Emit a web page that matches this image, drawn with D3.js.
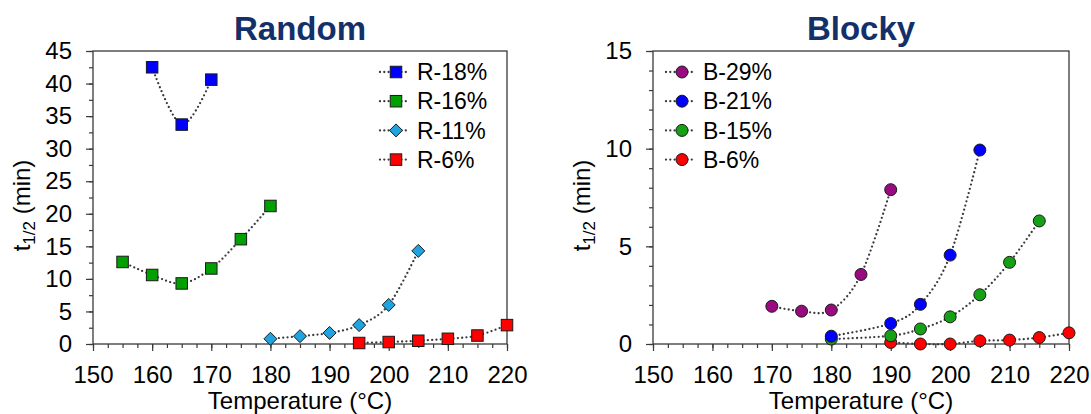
<!DOCTYPE html>
<html>
<head>
<meta charset="utf-8">
<script src="https://cdn.jsdelivr.net/npm/d3@7"></script>
<style>
  body { margin: 0; background: #fff; }
  svg { display: block; font-family: "Liberation Sans", Arial, sans-serif; }
</style>
</head>
<body>
<svg id="chart" width="1091" height="414"></svg>
<script>
// ---- data ----
const xTicks = [150, 160, 170, 180, 190, 200, 210, 220]

// Random copolymers
const r18Temp = [160, 165, 170]
const r18Val = [42.5, 33.7, 40.6]
const r16Temp = [155, 160, 165, 170, 175, 180]
const r16Val = [12.6, 10.6, 9.3, 11.6, 16.1, 21.2]
const r11Temp = [180, 185, 190, 195, 200, 205]
const r11Val = [0.8, 1.2, 1.7, 2.9, 6.0, 14.3]
const r6Temp = [195, 200, 205, 210, 215, 220]
const r6Val = [0.15, 0.3, 0.5, 0.8, 1.3, 2.9]
const randomTicks = [0, 5, 10, 15, 20, 25, 30, 35, 40, 45]

// Blocky copolymers
const b29Temp = [170, 175, 180, 185, 190]
const b29Val = [1.93, 1.68, 1.74, 3.56, 7.9]
const b21Temp = [180, 190, 195, 200, 205]
const b21Val = [0.4, 1.05, 2.03, 4.55, 9.93]
const b15Temp = [180, 190, 195, 200, 205, 210, 215]
const b15Val = [0.25, 0.42, 0.77, 1.39, 2.52, 4.18, 6.3]
const b6Temp = [190, 195, 200, 205, 210, 215, 220]
const b6Val = [0.08, 0.0, 0.0, 0.16, 0.2, 0.33, 0.57]
const blockyTicks = [0, 5, 10, 15]

function zip(t, v) {
  return t.map(function(d, i) { return { x: d, y: v[i] } })
}

const randomSeries = [
  { name: "R-18%", color: "#0000ff", shape: "square", pts: zip(r18Temp, r18Val) },
  { name: "R-16%", color: "#00a000", shape: "square", pts: zip(r16Temp, r16Val) },
  { name: "R-11%", color: "#1ea4e0", shape: "diamond", pts: zip(r11Temp, r11Val) },
  { name: "R-6%", color: "#ff0000", shape: "square", pts: zip(r6Temp, r6Val) }
]
const blockySeries = [
  { name: "B-29%", color: "#990a80", shape: "circle", pts: zip(b29Temp, b29Val) },
  { name: "B-21%", color: "#0000ff", shape: "circle", pts: zip(b21Temp, b21Val) },
  { name: "B-15%", color: "#16a016", shape: "circle", pts: zip(b15Temp, b15Val) },
  { name: "B-6%", color: "#ff0000", shape: "circle", pts: zip(b6Temp, b6Val) }
]

const svg = d3.select("#chart")
const FONT = 23
const TICKFONT = 24
const lineColor = "#3a3a3a"
const frameColor = "#3a3a3a"

function marker(g, shape, color) {
  var m
  if (shape === "square") {
    m = g.append("rect").attr("x", -5.75).attr("y", -5.75).attr("width", 11.5).attr("height", 11.5)
  } else if (shape === "diamond") {
    m = g.append("path").attr("d", "M0,-6.5L6.5,0L0,6.5L-6.5,0Z")
  } else {
    m = g.append("circle").attr("r", 6)
  }
  m.attr("fill", color).attr("stroke", "#1a1a1a").attr("stroke-width", 1)
}

function drawPanel(opts) {
  var left = opts.left, right = opts.right, top = 51, bottom = 344
  var x = d3.scaleLinear().domain([150, 220]).range([left, right])
  var y = d3.scaleLinear().domain([0, opts.yMax]).range([bottom, top])
  var g = svg.append("g")

  // title
  g.append("text")
    .attr("x", (left + right) / 2)
    .attr("y", 40)
    .attr("text-anchor", "middle")
    .attr("font-size", 33)
    .attr("font-weight", "bold")
    .attr("fill", "#14306b")
    .text(opts.title)

  // minor x ticks
  g.append("g")
    .attr("transform", "translate(0," + bottom + ")")
    .call(d3.axisBottom(x).tickValues(d3.range(150, 220.1, 2.5)).tickSize(4).tickFormat(""))
    .call(function(a) { a.select(".domain").remove() })
  // major x ticks + labels
  g.append("g")
    .attr("transform", "translate(0," + bottom + ")")
    .call(d3.axisBottom(x).tickValues(xTicks).tickSize(7).tickPadding(15))
    .call(function(a) { a.select(".domain").remove() })
  // minor y ticks
  g.append("g")
    .attr("transform", "translate(" + left + ",0)")
    .call(d3.axisLeft(y).tickValues(d3.range(0, opts.yMax + 0.01, opts.yMinor)).tickSize(4).tickFormat(""))
    .call(function(a) { a.select(".domain").remove() })
  // major y ticks + labels
  g.append("g")
    .attr("transform", "translate(" + left + ",0)")
    .call(d3.axisLeft(y).tickValues(opts.yTicks).tickSize(7).tickPadding(14))
    .call(function(a) { a.select(".domain").remove() })

  g.selectAll(".tick line").attr("stroke", frameColor).attr("stroke-width", 1.2)
  g.selectAll(".tick text").attr("font-size", TICKFONT).attr("fill", "#000")
    .attr("font-family", "Liberation Sans, Arial, sans-serif")

  // frame
  g.append("rect")
    .attr("x", left).attr("y", top)
    .attr("width", right - left).attr("height", bottom - top)
    .attr("fill", "none").attr("stroke", frameColor).attr("stroke-width", 1.3)

  // axis titles
  g.append("text")
    .attr("x", (left + right) / 2)
    .attr("y", 409)
    .attr("text-anchor", "middle")
    .attr("font-size", TICKFONT)
    .text("Temperature (°C)")
  var yt = g.append("text")
    .attr("transform", "translate(" + (left - 71) + "," + ((top + bottom) / 2 + 8) + ") rotate(-90)")
    .attr("text-anchor", "middle")
    .attr("dy", "0.35em")
    .attr("font-size", TICKFONT)
  yt.append("tspan").text("t")
  yt.append("tspan").attr("font-size", 17).attr("dy", 5).text("1/2")
  yt.append("tspan").attr("dy", -5).text(" (min)")

  // series
  var line = d3.line()
    .x(function(d) { return x(d.x) })
    .y(function(d) { return y(d.y) })
    .curve(d3.curveCardinal.tension(0))

  opts.series.slice().reverse().forEach(function(s) {
    g.append("path")
      .datum(s.pts)
      .attr("d", line)
      .attr("fill", "none")
      .attr("stroke", lineColor)
      .attr("stroke-width", 2.3)
      .attr("stroke-linecap", "round")
      .attr("stroke-dasharray", "0 4.3")
    s.pts.forEach(function(p) {
      var mg = g.append("g").attr("transform", "translate(" + x(p.x) + "," + y(p.y) + ")")
      marker(mg, s.shape, s.color)
    })
  })

  // legend
  opts.series.forEach(function(s, i) {
    var ly = 72 + i * 29.2
    var lg = g.append("g")
    lg.append("line")
      .attr("x1", opts.legX - 16).attr("x2", opts.legX + 14)
      .attr("y1", ly).attr("y2", ly)
      .attr("stroke", lineColor)
      .attr("stroke-width", 2.3)
      .attr("stroke-linecap", "round")
      .attr("stroke-dasharray", "0 4.3")
    var mg = lg.append("g").attr("transform", "translate(" + opts.legX + "," + ly + ")")
    marker(mg, s.shape, s.color)
    lg.append("text")
      .attr("x", opts.legX + 21)
      .attr("y", ly)
      .attr("dy", "0.36em")
      .attr("font-size", FONT)
      .text(s.name)
  })
}

drawPanel({
  title: "Random", left: 93, right: 507, yMax: 45, yMinor: 2.5,
  yTicks: randomTicks, series: randomSeries, legX: 396
})
drawPanel({
  title: "Blocky", left: 653, right: 1069, yMax: 15, yMinor: 1,
  yTicks: blockyTicks, series: blockySeries, legX: 682
})
</script>
</body>
</html>
